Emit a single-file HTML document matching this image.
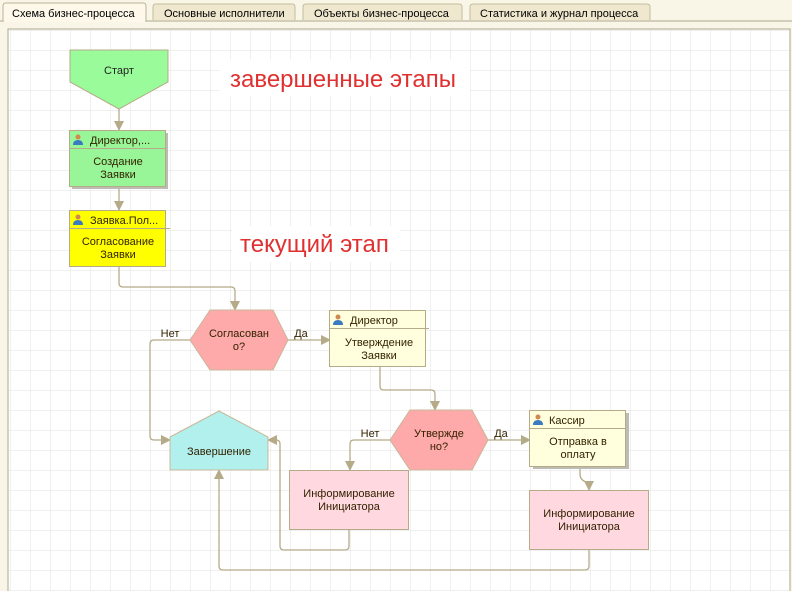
<!DOCTYPE html>
<html><head><meta charset="utf-8"><style>
html,body{margin:0;padding:0;width:792px;height:591px;overflow:hidden;background:#f7f3e3;}
svg{display:block}
text{font-family:"Liberation Sans",sans-serif;}
</style></head><body>
<svg width="792" height="591" xmlns="http://www.w3.org/2000/svg">
<defs>
<pattern id="g" x="10" y="30" width="20" height="20" patternUnits="userSpaceOnUse">
<path d="M0 0H20M0 0V20" stroke="#e0e0e0" stroke-width="1" fill="none"/>
</pattern>
<marker id="a" markerWidth="10" markerHeight="10" refX="9" refY="5" orient="auto" markerUnits="userSpaceOnUse">
<path d="M0 0L10 5L0 10Z" fill="#b5ab88"/>
</marker>
</defs>
<rect x="0" y="0" width="792" height="591" fill="#f9f6e8"/>
<path d="M0 21H792" stroke="#aaa58a"/>
<path d="M3 21V6Q3 3 6 3H143Q146 3 146 6V21" fill="#fdf8ea" stroke="#b8b39a"/>
<path d="M153 20V7Q153 4 156 4H292Q295 4 295 7V20" fill="#efe8cf" stroke="#c2bc9e"/>
<path d="M303 20V7Q303 4 306 4H459Q462 4 462 7V20" fill="#efe8cf" stroke="#c2bc9e"/>
<path d="M470 20V7Q470 4 473 4H647Q650 4 650 7V20" fill="#efe8cf" stroke="#c2bc9e"/>
<rect x="4" y="20" width="141" height="2" fill="#fdf8ea"/>
<g font-size="11" fill="#000">
<text x="12" y="17">Схема бизнес-процесса</text>
<text x="164" y="17">Основные исполнители</text>
<text x="314" y="17">Объекты бизнес-процесса</text>
<text x="480" y="17">Статистика и журнал процесса</text>
</g>
<rect x="8" y="29" width="782" height="570" fill="#fff" stroke="#aaa58a"/>
<rect x="9" y="30" width="780" height="570" fill="url(#g)"/>
<rect x="220" y="60" width="250" height="36" fill="#fff"/>
<rect x="232" y="226" width="168" height="36" fill="#fff"/>
<text x="230" y="87" font-size="24" fill="#e03030">завершенные этапы</text>
<text x="240" y="252" font-size="24" fill="#e03030">текущий этап</text>
<g stroke="#b5ab88" stroke-width="1.3" fill="none" marker-end="url(#a)">
<path d="M119 109V130"/>
<path d="M119 186V210"/>
<path d="M119 266V283Q119 287 123 287H231Q235 287 235 291V310"/>
<path d="M288 340H330"/>
<path d="M190 340H154Q150 340 150 344V436Q150 440 154 440H170"/>
<path d="M380 366V386Q380 390 384 390H431Q435 390 435 394V410"/>
<path d="M488 440H530"/>
<path d="M390 440H354Q350 440 350 444V470"/>
<path d="M349 530V546Q349 550 345 550H284Q280 550 280 546V444Q280 440 276 440H268"/>
<path d="M580 466V474Q580 480 586 482Q589 484 589 490"/>
<path d="M589 550V566Q589 570 585 570H223Q219 570 219 566V470"/>
</g>
<path d="M70 50H168V82L119 109L70 82Z" fill="#99fb99" stroke="#b5ab88"/>
<text x="119" y="74" font-size="11" text-anchor="middle" fill="#222">Старт</text>
<rect x="72" y="133" width="96" height="56" fill="#bcbcb4"/>
<rect x="69.5" y="130.5" width="96" height="56" fill="#98f598" stroke="#b5ab88"/>
<path d="M69.5 148.5H165.5" stroke="#b5ab88"/>
<g font-size="11" fill="#332200" text-anchor="middle">
<text x="90" y="144" text-anchor="start">Директор,...</text>
<text x="118" y="165">Создание</text>
<text x="118" y="178">Заявки</text>
</g>
<rect x="69.5" y="210.5" width="96" height="56" fill="#ffff00" stroke="#b5ab88"/>
<path d="M69.5 228.5H170" stroke="#b5ab88"/>
<g font-size="11" fill="#332200" text-anchor="middle">
<text x="90" y="224" text-anchor="start">Заявка.Пол...</text>
<text x="118" y="245">Согласование</text>
<text x="118" y="258">Заявки</text>
</g>
<path d="M190 340L210 310H273L288 340L273 370H210Z" fill="#ffaaaa" stroke="#c8b898"/>
<g font-size="11" fill="#332200" text-anchor="middle">
<text x="239" y="337">Согласован</text>
<text x="239" y="350">о?</text>
<text x="170" y="337">Нет</text>
<text x="301" y="337">Да</text>
</g>
<rect x="329.5" y="310.5" width="96" height="56" fill="#ffffdd" stroke="#b5ab88"/>
<path d="M329.5 328.5H429" stroke="#b5ab88"/>
<g font-size="11" fill="#332200" text-anchor="middle">
<text x="350" y="324" text-anchor="start">Директор</text>
<text x="379" y="346">Утверждение</text>
<text x="379" y="359">Заявки</text>
</g>
<path d="M390 440L410 410H472L488 440L472 470H410Z" fill="#ffaaaa" stroke="#c8b898"/>
<g font-size="11" fill="#332200" text-anchor="middle">
<text x="439" y="437">Утвержде</text>
<text x="439" y="450">но?</text>
<text x="370" y="437">Нет</text>
<text x="501" y="437">Да</text>
</g>
<rect x="533" y="413" width="96" height="56" fill="#bcbcb4"/>
<rect x="529.5" y="410.5" width="96" height="56" fill="#ffffdd" stroke="#b5ab88"/>
<path d="M529.5 428.5H625.5" stroke="#b5ab88"/>
<g font-size="11" fill="#332200" text-anchor="middle">
<text x="549" y="424" text-anchor="start">Кассир</text>
<text x="578" y="445">Отправка в</text>
<text x="578" y="458">оплату</text>
</g>
<path d="M170 437L219 411L268 437V470H170Z" fill="#b2f0ee" stroke="#c8b898"/>
<text x="219" y="455" font-size="11" text-anchor="middle" fill="#332200">Завершение</text>
<rect x="289.5" y="470.5" width="119" height="59" fill="#ffd8e0" stroke="#b5ab88"/>
<g font-size="11" fill="#332200" text-anchor="middle">
<text x="349" y="497">Информирование</text>
<text x="349" y="510">Инициатора</text>
</g>
<rect x="529.5" y="490.5" width="119" height="59" fill="#ffd8e0" stroke="#b5ab88"/>
<g font-size="11" fill="#332200" text-anchor="middle">
<text x="589" y="517">Информирование</text>
<text x="589" y="530">Инициатора</text>
</g>
<g>
<circle cx="78" cy="137" r="2.5" fill="#d08a50"/><path d="M73 145Q73 140 78 140Q83 140 83 145Z" fill="#3a7ac0"/>
<circle cx="78" cy="217" r="2.5" fill="#d08a50"/><path d="M73 225Q73 220 78 220Q83 220 83 225Z" fill="#3a7ac0"/>
<circle cx="338" cy="317" r="2.5" fill="#d08a50"/><path d="M333 325Q333 320 338 320Q343 320 343 325Z" fill="#3a7ac0"/>
<circle cx="538" cy="417" r="2.5" fill="#d08a50"/><path d="M533 425Q533 420 538 420Q543 420 543 425Z" fill="#3a7ac0"/>
</g>
</svg>
</body></html>
